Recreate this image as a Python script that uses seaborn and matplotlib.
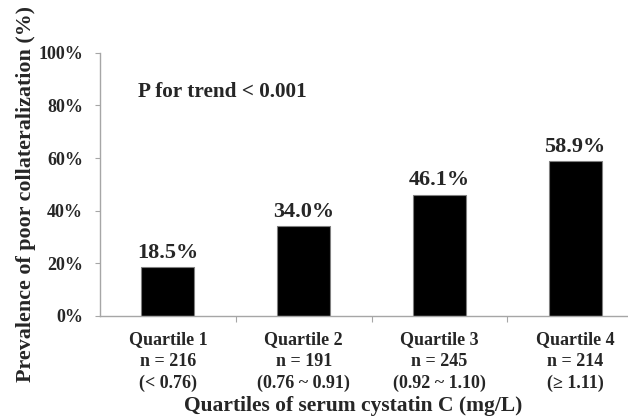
import matplotlib
matplotlib.use("Agg")
import matplotlib.pyplot as plt
import seaborn as sns
import pandas as pd
from matplotlib.ticker import PercentFormatter, FixedLocator

# Prevalence of poor collateralization by cystatin C quartile
quartiles = ["Quartile 1", "Quartile 2", "Quartile 3", "Quartile 4"]
counts = [216, 191, 245, 214]
ranges = ["(< 0.76)", "(0.76 ~ 0.91)", "(0.92 ~ 1.10)", "(\u2265 1.11)"]
prevalence = [18.5, 34.0, 46.1, 58.9]

labels = [f"{q}\nn = {n}\n{r}" for q, n, r in zip(quartiles, counts, ranges)]
df = pd.DataFrame({"group": labels, "prev": prevalence})

sns.set_style("white")
plt.rcParams["font.family"] = ["Liberation Serif", "DejaVu Serif"]
plt.rcParams["font.weight"] = "bold"

W, H = 628, 417
ax_w = 543
fig = plt.figure(figsize=(W / 100, H / 100), dpi=100)
ax = fig.add_axes([100 / W, 101 / H, ax_w / W, 263.3 / H])

sns.barplot(data=df, x="group", y="prev", color="black", width=0.39,
            edgecolor="#808080", linewidth=0.8, saturation=1, ax=ax)

ax.set_ylim(0, 100)
ax.set_xlim(-0.5, len(labels) - 0.5)
ax.yaxis.set_major_locator(FixedLocator([0, 20, 40, 60, 80, 100]))
ax.yaxis.set_major_formatter(PercentFormatter(decimals=0))

for i, v in enumerate(prevalence):
    ax.text(i, v + 1.6, f"{v:.1f}%", ha="center", va="bottom",
            fontsize=16, fontweight="bold")

ax.text(38 / ax_w, 0.85, "P for trend < 0.001", transform=ax.transAxes,
        ha="left", va="center", fontsize=15.3, fontweight="bold")

for s in ["top", "right"]:
    ax.spines[s].set_visible(False)
for s in ["left", "bottom"]:
    ax.spines[s].set_color("#a6a6a6")
    ax.spines[s].set_linewidth(1.0)

ax.tick_params(axis="y", which="major", direction="out", length=3.6, width=0.8,
               color="#a6a6a6", labelsize=13, pad=8.5, left=True)
ax.tick_params(axis="x", which="major", length=0, labelsize=13, pad=11)
ax.set_xticks([i + 0.5 for i in range(len(labels) - 1)], minor=True)
ax.tick_params(axis="x", which="minor", direction="out", length=4, width=0.8,
               color="#a6a6a6", bottom=True)
for t in ax.get_xticklabels() + ax.get_yticklabels():
    t.set_fontweight("bold")
for t in ax.get_xticklabels():
    t.set_linespacing(1.35)

ax.set_xlabel("Quartiles of serum cystatin C (mg/L)", fontsize=15.5,
              fontweight="bold")
ax.xaxis.set_label_coords((353.5 - 100) / ax_w, -0.302)
ax.set_ylabel("Prevalence of poor collateralization (%)", fontsize=15.8,
              fontweight="bold")
ax.yaxis.set_label_coords(-64 / ax_w, 0.463)

fig.savefig("out.png", dpi=100)
